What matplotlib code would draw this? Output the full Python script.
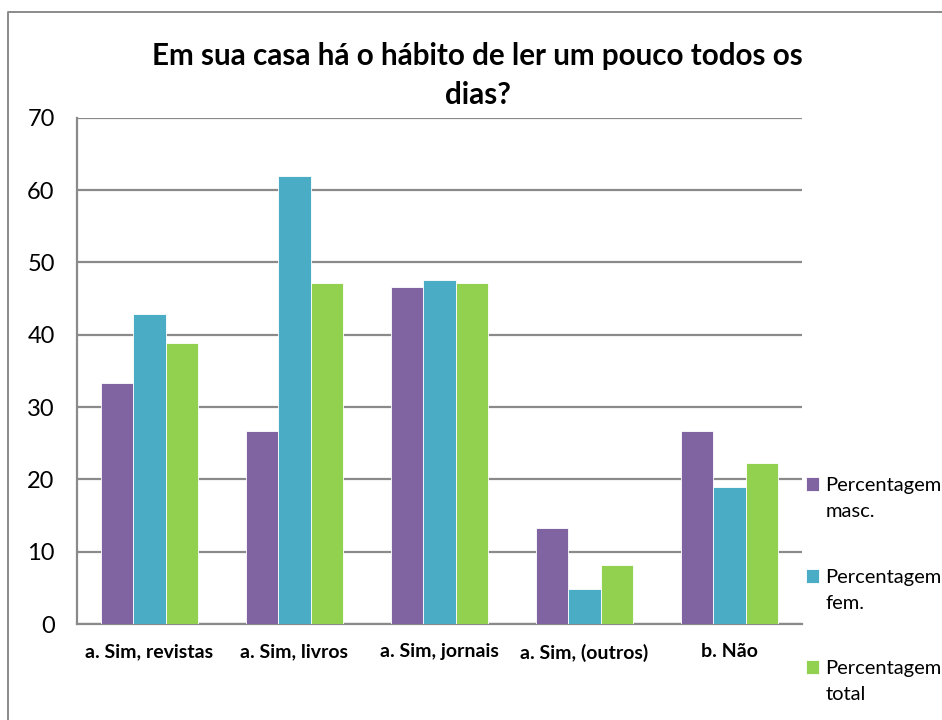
import matplotlib.pyplot as plt
import numpy as np
from matplotlib.transforms import offset_copy

plt.rcParams['font.family'] = ['Lato', 'DejaVu Sans']

categories = ["a. Sim, revistas", "a. Sim, livros", "a. Sim, jornais", "a. Sim, (outros)", "b. Não"]
masc = [33.3, 26.7, 46.6, 13.3, 26.7]
fem = [42.9, 62.0, 47.6, 4.8, 19.0]
total = [38.9, 47.2, 47.2, 8.2, 22.2]
series_first = ["Percentagem", "Percentagem", "Percentagem"]
series_second = ["masc.", "fem.", "total"]
colors = ["#8064A2", "#4BACC6", "#92D050"]

fig = plt.figure(figsize=(9.42, 7.2), dpi=100)
ax = fig.add_axes([0.0817, 0.1333, 0.7697, 0.703])

x = np.arange(len(categories))
w = 0.223
handles = []
for i, (vals, c) in enumerate(zip([masc, fem, total], colors)):
    b = ax.bar(x + (i - 1) * w, vals, w, color=c, edgecolor="white", linewidth=0.6, zorder=3)
    handles.append(b)

ax.set_xlim(-0.5, len(categories) - 0.5)
ax.set_ylim(0, 70)
ax.set_yticks(range(0, 71, 10))
ax.yaxis.grid(True, color="#8a8a8a", linewidth=1.6, zorder=0)
ax.set_axisbelow(True)
ax.tick_params(axis="y", labelsize=17, length=0, pad=16)
ax.tick_params(axis="x", length=0, pad=14)
ax.set_xticks(x)
ax.set_xticklabels(categories, fontsize=14, fontweight="bold")
for s in ["top", "right"]:
    ax.spines[s].set_visible(False)
for s in ["left", "bottom"]:
    ax.spines[s].set_color("#8a8a8a")
    ax.spines[s].set_linewidth(1.6)

fig.text(0.507, 0.895, "Em sua casa há o hábito de ler um pouco todos os\ndias?",
         ha="center", va="center", fontsize=21.3, fontweight="bold", linespacing=1.5)

leg = fig.legend(handles, series_first, loc="upper left", bbox_to_anchor=(0.8556, 0.337),
                 frameon=False, fontsize=14.5, handlelength=0.67, handleheight=0.67,
                 handletextpad=0.3, labelspacing=3.7, borderaxespad=0, borderpad=0)

# second line of each legend label, placed under the first one
fig.canvas.draw()
for t, extra in zip(leg.get_texts(), series_second):
    bb = t.get_window_extent()
    tr = offset_copy(fig.transFigure, fig=fig, x=0, y=-26, units="dots")
    fig.text(bb.x0 / fig.bbox.width, (bb.y0 + bb.y1) / 2 / fig.bbox.height, extra,
             transform=tr, fontsize=14.5, ha="left", va="center")

# outer chart border
fig.add_artist(plt.Line2D([0.0085, 0.0085, 1.0], [0.0, 0.983, 0.983],
                          transform=fig.transFigure, color="#8a8a8a", linewidth=1.4))

fig.savefig("out.png", dpi=100)
